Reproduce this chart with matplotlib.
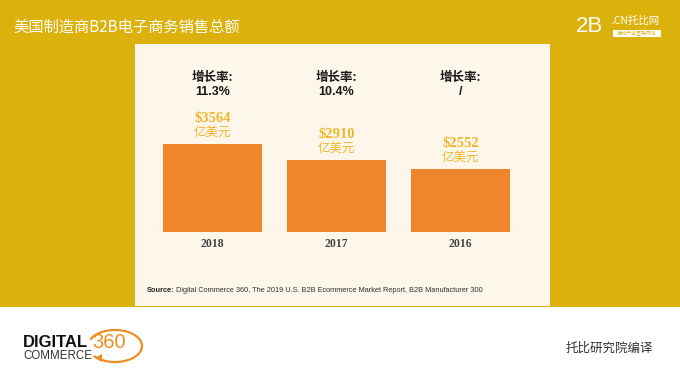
import numpy as np
import matplotlib
matplotlib.use("Agg")
import matplotlib.pyplot as plt
from matplotlib import transforms
from matplotlib.patches import Rectangle, Arc, Polygon

plt.rcParams['font.family'] = ['Noto Sans CJK SC', 'DejaVu Sans']

# data
years = ['2018', '2017', '2016']
sales = [3564, 2910, 2552]          # 亿美元
growth = ['11.3%', '10.4%', '/']

GOLD = '#DDB10C'
PANEL = '#FCF7EA'
BAR = '#F0862C'
VAL = '#F2B52C'

W, H = 680, 374
fig = plt.figure(figsize=(W / 100, H / 100), dpi=100)
fig.patch.set_facecolor('white')


def fx(px):
    return px / W


def fy(py):
    return 1 - py / H


# backgrounds
fig.patches.append(Rectangle((0, fy(307)), 1, 307 / H, transform=fig.transFigure,
                             facecolor=GOLD, edgecolor='none', zorder=-2))
fig.patches.append(Rectangle((fx(135), fy(306)), fx(550) - fx(135), (306 - 44) / H,
                             transform=fig.transFigure, facecolor=PANEL,
                             edgecolor='none', zorder=-1))

# title
fig.text(fx(13), fy(27), '美国制造商B2B电子商务销售总额', color='white',
         fontsize=11, va='center', ha='left')

# top right logo
fig.text(fx(576), fy(27), '2B', color='white', fontsize=16, va='center',
         ha='left', family='Liberation Sans')
fig.text(fx(611), fy(21), '.CN托比网', color='white', fontsize=7.5,
         va='center', ha='left')
fig.patches.append(Rectangle((fx(613), fy(37)), fx(661) - fx(613), 7 / H,
                             transform=fig.transFigure, facecolor='white',
                             edgecolor='none'))
fig.text(fx(637), fy(33.5), '推动产业互联网化', color=GOLD, fontsize=3.6,
         va='center', ha='center')

# chart
ax = fig.add_axes([fx(135), fy(232), fx(550) - fx(135), (232 - 44) / H])
ax.set_facecolor('none')
x = np.arange(len(years))
bars = ax.bar(x, sales, width=0.8, color=BAR, zorder=2)
ax.set_xlim(-0.625, 2.722)
ax.set_ylim(0, 188 * 40.5)
for s in ax.spines.values():
    s.set_visible(False)
ax.set_yticks([])
ax.set_xticks(x, years)
ax.tick_params(axis='x', length=0, pad=4)
for lab in ax.get_xticklabels():
    lab.set_family('Liberation Serif')
    lab.set_fontweight('bold')
    lab.set_fontsize(8.5)
    lab.set_color('#444444')
ax.axhline(0, xmin=0.041, xmax=0.933, color='#EEE8D6', lw=1, zorder=1)

for xi, v in zip(x, sales):
    ax.annotate(f'${v}', (xi, v), xytext=(0, 18.5), textcoords='offset points',
                ha='center', va='center', color=VAL, fontsize=10.5,
                fontweight='bold', family='Liberation Serif')
    ax.annotate('亿美元', (xi, v), xytext=(0, 8.5), textcoords='offset points',
                ha='center', va='center', color=VAL, fontsize=9)

trans = transforms.blended_transform_factory(ax.transData, ax.transAxes)
for xi, g in zip(x, growth):
    ax.text(xi, 1 - (77 - 44) / 188, '增长率:', transform=trans, ha='center',
            va='center', fontsize=9, fontweight='bold', color='#1a1a1a')
    ax.text(xi, 1 - (92 - 44) / 188, g, transform=trans, ha='center',
            va='center', fontsize=9, fontweight='bold', color='#1a1a1a',
            family='Liberation Sans')

# source
fig.text(fx(147), fy(291), 'Source:', fontsize=5.3, fontweight='bold',
         family='Liberation Sans', va='center', color='#222222')
fig.text(fx(176), fy(291),
         'Digital Commerce 360, The 2019 U.S. B2B Ecommerce Market Report, B2B Manufacturer 300',
         fontsize=5.3, family='Liberation Sans', va='center', color='#333333')

# bottom logo
fig.text(fx(23), fy(342.5), 'DIGITAL', fontsize=12, fontweight='bold',
         family='Liberation Sans', va='center', ha='left', color='#111111')
fig.text(fx(23), fy(356), 'COMMERCE', fontsize=8.3, family='Liberation Sans',
         va='center', ha='left', color='#333333')
fig.text(fx(92), fy(342), '360', fontsize=14.5, family='Liberation Sans',
         va='center', ha='left', color='#EE8E22')
fig.patches.append(Arc((fx(115), fy(346)), fx(54), 32 / H, theta1=-140, theta2=155,
                       transform=fig.transFigure, color='#EE8E22', lw=1.6))
fig.patches.append(Polygon([(fx(95), fy(358)), (fx(102), fy(354)), (fx(102), fy(362))],
                           closed=True, transform=fig.transFigure,
                           facecolor='#EE8E22', edgecolor='none'))

fig.text(fx(566), fy(348), '托比研究院编译', fontsize=9, va='center', ha='left',
         color='#333333')

fig.savefig('out.png', dpi=100, facecolor=fig.get_facecolor())
